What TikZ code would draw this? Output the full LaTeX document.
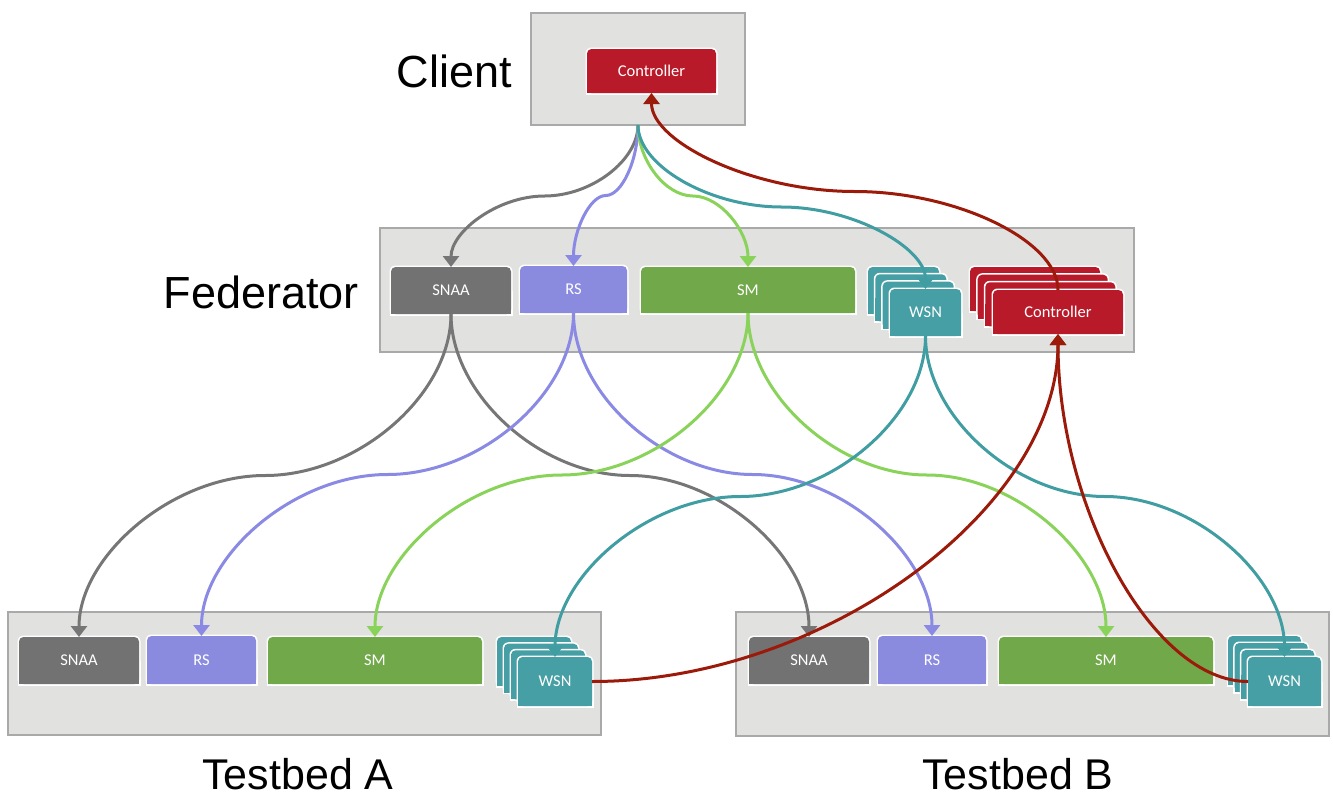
\documentclass[tikz,border=0pt]{standalone}
\usepackage{fontspec}
\setmainfont{Liberation Sans}
\newfontfamily\tilefont{Carlito}
\usetikzlibrary{arrows.meta,calc}
\definecolor{boxfill}{HTML}{E1E1E0}
\definecolor{boxline}{HTML}{A9A9A9}
\definecolor{snaac}{HTML}{727272}
\definecolor{snaal}{HTML}{767676}
\definecolor{rsc}{HTML}{8A8ADE}
\definecolor{rsl}{HTML}{8A8AE4}
\definecolor{smc}{HTML}{71A84A}
\definecolor{sml}{HTML}{8AD35A}
\definecolor{wsnc}{HTML}{469FA4}
\definecolor{wsnl}{HTML}{409DA2}
\definecolor{ctlc}{HTML}{B81A2A}
\definecolor{ctll}{HTML}{9B1A0A}
\tikzset{
  panel/.style={fill=boxfill, draw=boxline, line width=1.5pt, inner sep=0pt, outer sep=0pt},
  tiletext/.style={inner sep=0pt, outer sep=0pt, text=white, font=\tilefont\fontsize{16.5}{18}\selectfont},
  title/.style={inner sep=0pt, outer sep=0pt, font=\fontsize{45}{50}\selectfont},
  conn/.style={line width=3pt, -{Triangle[length=11pt,width=16pt]}},
  scurve/.style={to path={let \p1=(\tikztostart), \p2=(\tikztotarget) in
     .. controls (\x1,{\y1+(\y2-(\y1))/4}) and ({\x1+(\x2-(\x1))/4},{(\y1+\y2)/2}) .. ({(\x1+\x2)/2},{(\y1+\y2)/2})
     .. controls ({\x1+3*(\x2-(\x1))/4},{(\y1+\y2)/2}) and (\x2,{\y1+3*(\y2-(\y1))/4}) .. (\x2,\y2)}},
  lcurve/.style={to path={let \p1=(\tikztostart), \p2=(\tikztotarget) in
     .. controls ({(\x1+\x2)/2},\y1) and (\x2,{(\y1+\y2)/2}) .. (\x2,\y2)}},
}
\newcommand\mytile[7]{%
  \fill[white, rounded corners=6pt] ({#2-1.5},{#3-1.5}) rectangle ({#4+1.5},{#5+1.5});
  \fill[white] ({#2-1.5},{(#3+#5)/2}) rectangle ({#4+1.5},{#5+1.5});
  \fill[#6, rounded corners=4.5pt] (#2,#3) rectangle (#4,#5);
  \fill[#6] (#2,{(#3+#5)/2}) rectangle (#4,#5);
  \node[tiletext, minimum width={#4-#2}, minimum height={#5-#3}] (#1) at ({(#2+#4)/2},{(#3+#5)/2}) {#7};
}
\begin{document}
\begin{tikzpicture}[x=1pt,y=-1pt]
\useasboundingbox (0,0) rectangle (1333,796);
% panels
\node[panel, minimum width=214, minimum height=112] (clientbox) at (638,69) {};
\node[panel, minimum width=754, minimum height=124] (fedbox) at (757,290) {};
\node[panel, minimum width=593, minimum height=123] (tbA) at (304.5,673.5) {};
\node[panel, minimum width=593, minimum height=124] (tbB) at (1032.5,674) {};
% titles
\node[title, anchor=base east] (lclient) at (512,87) {Client};
\node[title, anchor=base east] (lfed) at (359,308) {Federator};
\node[title, anchor=base, font=\fontsize{43}{48}\selectfont] (lta) at (298,789) {Testbed A};
\node[title, anchor=base, font=\fontsize{43}{48}\selectfont] (ltb) at (1018,789) {Testbed B};
% client
\mytile{ctlC}{587}{49}{716}{93}{ctlc}{Controller}
% federator
\mytile{snaaF}{391}{267}{511}{314}{snaac}{SNAA}
\mytile{rsF}{520}{266}{627}{313}{rsc}{RS}
\mytile{smF}{641}{267}{855}{313}{smc}{SM}
\mytile{wsnF1}{868}{267}{939}{314}{wsnc}{}
\mytile{wsnF2}{875.3}{274.3}{946.3}{321.3}{wsnc}{}
\mytile{wsnF3}{882.7}{281.7}{953.7}{328.7}{wsnc}{}
\mytile{wsnF}{890}{289}{961}{336}{wsnc}{WSN}
\mytile{ctlF1}{970}{267}{1100}{311}{ctlc}{}
\mytile{ctlF2}{977.7}{274.7}{1107.7}{318.7}{ctlc}{}
\mytile{ctlF3}{985.3}{282.3}{1115.3}{326.3}{ctlc}{}
\mytile{ctlF}{993}{290}{1123}{334}{ctlc}{Controller}
% testbed A
\mytile{snaaA}{19}{637}{139}{684}{snaac}{SNAA}
\mytile{rsA}{147}{636}{256}{684}{rsc}{RS}
\mytile{smA}{268}{637}{482}{684}{smc}{SM}
\mytile{wsnA1}{497}{637}{571}{686}{wsnc}{}
\mytile{wsnA2}{504}{643.7}{578}{692.7}{wsnc}{}
\mytile{wsnA3}{511}{650.3}{585}{699.3}{wsnc}{}
\mytile{wsnA}{518}{657}{592}{706}{wsnc}{WSN}
% testbed B
\mytile{snaaB}{749}{637}{869}{684}{snaac}{SNAA}
\mytile{rsB}{878}{636}{986}{684}{rsc}{RS}
\mytile{smB}{999}{637}{1213}{684}{smc}{SM}
\mytile{wsnB1}{1228}{636}{1301}{685}{wsnc}{}
\mytile{wsnB2}{1234.7}{643}{1307.7}{692}{wsnc}{}
\mytile{wsnB3}{1241.3}{650}{1314.3}{699}{wsnc}{}
\mytile{wsnB}{1248}{657}{1321}{706}{wsnc}{WSN}
% connectors client -> federator
\draw[conn, snaal] (clientbox.south) to[scurve] (snaaF.north);
\draw[conn, rsl] (clientbox.south) to[scurve] (rsF.north);
\draw[conn, sml] (clientbox.south) to[scurve] (smF.north);
\draw[conn, wsnl] (clientbox.south) to[scurve] (wsnF.north);
\draw[conn, ctll] (ctlF.north) to[scurve] (ctlC.south);
% federator -> testbeds
\draw[conn, snaal] (snaaF.south) to[scurve] (snaaA.north);
\draw[conn, snaal] (snaaF.south) to[scurve] (snaaB.north);
\draw[conn, rsl] (rsF.south) to[scurve] (rsA.north);
\draw[conn, rsl] (rsF.south) to[scurve] (rsB.north);
\draw[conn, sml] (smF.south) to[scurve] (smA.north);
\draw[conn, sml] (smF.south) to[scurve] (smB.north);
\draw[conn, wsnl] (wsnF.south) to[scurve] (wsnA.north);
\draw[conn, wsnl] (wsnF.south) to[scurve] (wsnB.north);
\draw[conn, ctll] (wsnA.east) to[lcurve] (ctlF.south);
\draw[conn, ctll] (wsnB.west) to[lcurve] (ctlF.south);
\end{tikzpicture}
\end{document}
